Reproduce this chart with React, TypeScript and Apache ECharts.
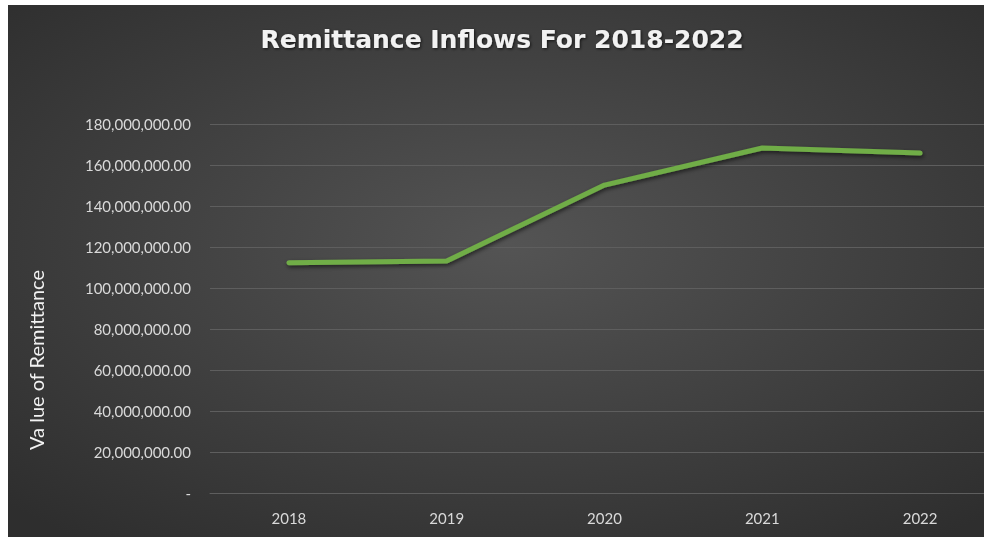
import React, { useEffect, useRef } from "react";
import * as echarts from "echarts";

const years = ["2018", "2019", "2020", "2021", "2022"];
const remittance = [112300000, 113200000, 150200000, 168300000, 165800000];
const yMax = 180000000;
const yStep = 20000000;

const fmt = (v: number) =>
  v === 0
    ? "-"
    : v.toLocaleString("en-US", { minimumFractionDigits: 2, maximumFractionDigits: 2 });

export default function App() {
  const ref = useRef<HTMLDivElement>(null);
  useEffect(() => {
    document.body.style.margin = "0";
    document.body.style.overflow = "hidden";
    const chart = echarts.init(ref.current!, undefined, { renderer: "svg" });
    const W = 1000;
    const H = 532;
    chart.setOption({
      animation: false,
      graphic: [
        {
          type: "rect",
          z: -10,
          silent: true,
          shape: { x: 0, y: 0, width: W, height: H },
          style: {
            fill: new echarts.graphic.RadialGradient(0.5, 0.45, 0.7, [
              { offset: 0, color: "#545454" },
              { offset: 1, color: "#2e2e2e" },
            ]),
          },
        },
        {
          type: "text",
          x: 28,
          y: 355,
          rotation: Math.PI / 2,
          style: {
            text: "Va lue of Remittance",
            fill: "#f2f2f2",
            font: "20px Lato, 'Open Sans', sans-serif",
            align: "center",
            verticalAlign: "middle",
          },
        },
        {
          type: "text",
          x: 494,
          y: 34,
          style: {
            text: "Remittance Inflows For 2018-2022",
            fill: "#f2f2f2",
            font: "bold 25px 'DejaVu Sans', 'Open Sans', sans-serif",
            align: "center",
            verticalAlign: "middle",
            textShadowColor: "rgba(0,0,0,0.7)",
            textShadowBlur: 3,
            textShadowOffsetX: 1,
            textShadowOffsetY: 1,
          },
        },
      ],
      grid: { left: 202, right: 9, top: 119, bottom: 44 },
      xAxis: {
        type: "category",
        data: years,
        boundaryGap: true,
        axisLine: { show: true, lineStyle: { color: "#5e5e5e", width: 1 } },
        axisTick: { show: false },
        axisLabel: {
          color: "#d9d9d9",
          fontSize: 15,
          fontFamily: "Lato, 'Open Sans', sans-serif",
          margin: 17,
        },
      },
      yAxis: {
        type: "value",
        min: 0,
        max: yMax,
        interval: yStep,
        axisLine: { show: false },
        axisTick: { show: false },
        splitLine: { lineStyle: { color: "#5e5e5e", width: 1 } },
        axisLabel: {
          color: "#d9d9d9",
          fontSize: 15,
          fontFamily: "Lato, 'Open Sans', sans-serif",
          margin: 19,
          formatter: fmt,
        },
      },
      series: [
        {
          type: "line",
          data: remittance,
          symbol: "none",
          lineStyle: {
            color: "#70ad47",
            width: 5,
            cap: "round",
            shadowColor: "rgba(0,0,0,0.6)",
            shadowBlur: 4,
            shadowOffsetX: 1,
            shadowOffsetY: 2,
          },
        },
      ],
    });
    return () => chart.dispose();
  }, []);
  return (
    <div style={{ position: "fixed", left: 8, top: 5, right: 0, bottom: 0, overflow: "hidden" }}>
      <div ref={ref} style={{ width: 1000, height: 532 }} />
    </div>
  );
}
